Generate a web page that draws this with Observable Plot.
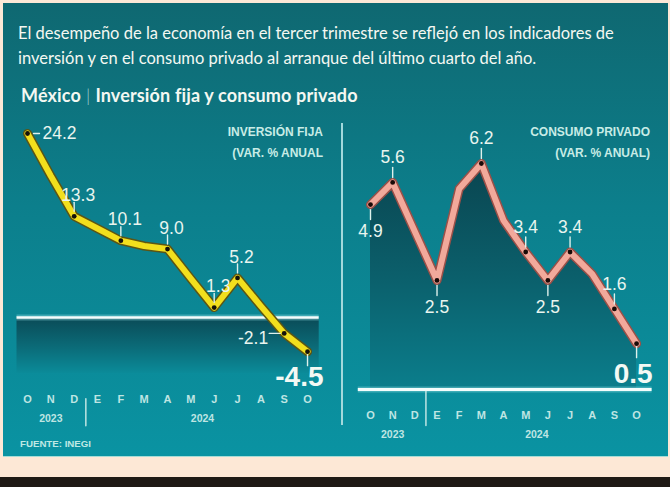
<!DOCTYPE html>
<html><head><meta charset="utf-8">
<script src="https://cdn.jsdelivr.net/npm/d3@7"></script>
<script src="https://cdn.jsdelivr.net/npm/@observablehq/plot@0.6"></script>
<style>
body{margin:0;background:#fde8d6;}
#page{position:relative;width:670px;height:487px;overflow:hidden;background:#fde8d6;font-family:Lato,"Liberation Sans",sans-serif;}
#panel{position:absolute;left:3px;top:3px;width:665px;height:453px;background:linear-gradient(180deg,#0f6871 0%,#0c7f8c 45%,#0a93a2 100%);border-bottom:1px solid #a6dcd6;}
#band{position:absolute;left:0;top:477px;width:670px;height:10px;background:#1f1a15;}
.t{position:absolute;white-space:nowrap;color:#f4f8f2;}
#title{left:18px;top:21px;font-size:16.5px;line-height:25px;}
#sub{left:21px;top:84px;font-size:18px;font-weight:700;line-height:22px;letter-spacing:0.15px;}
#sub .bar{font-weight:300;color:#9fd3d4;padding:0 5px;}
.lab{font-family:"Liberation Sans",Arial,sans-serif;font-weight:700;font-size:12px;line-height:21px;color:#c8ece6;text-align:right;}
#labL{right:347px;top:122px;}
#labR{right:20px;top:122px;}
#src{left:20px;top:438px;font-family:"Liberation Sans",Arial,sans-serif;font-weight:700;font-size:9.7px;color:#bfe8e4;}
#div{position:absolute;left:341px;top:123px;width:1.5px;height:302px;background:#a3d9dc;}
.chart{position:absolute;left:0;top:0;}
</style></head>
<body><div id="page">
<div id="panel"></div>
<div id="band"></div>
<div class="t" id="title">El desempeño de la economía en el tercer trimestre se reflejó en los indicadores de<br>inversión y en el consumo privado al arranque del último cuarto del año.</div>
<div class="t" id="sub">México<span class="bar">|</span>Inversión fija y consumo privado</div>
<div class="t lab" id="labL">INVERSIÓN FIJA<br>(VAR. % ANUAL</div>
<div class="t lab" id="labR">CONSUMO PRIVADO<br>(VAR. % ANUAL)</div>
<div class="t" id="src">FUENTE: INEGI</div>
<div id="div"></div>
<div class="chart" id="cL"></div>
<div class="chart" id="cR"></div>
</div>
<script>
// ---- data ----
const months = ["O","N","D","E","F","M","A","M","J","J","A","S","O"];
const monthYear = ["2023","2023","2023","2024","2024","2024","2024","2024","2024","2024","2024","2024","2024"];
const years = ["2023","2024"];
const inversion = [24.2, 18.6, 13.3, 11.7, 10.1, 9.4, 9.0, 5.1, 1.3, 5.2, 1.5, -2.1, -4.5];
const consumo = [4.9, 5.6, 4.05, 2.5, 5.4, 6.2, 4.4, 3.4, 2.5, 3.4, 2.7, 1.6, 0.5];
const inversionLabeled = [0, 2, 4, 6, 8, 9, 11, 12];
const consumoLabeled = [0, 1, 3, 5, 7, 8, 9, 11, 12];

// ---- presentation ----
const W = 670, H = 460;
const numFont = '"Liberation Sans",Arial,sans-serif';
const axFont = '"Liberation Sans",Arial,sans-serif';
const txt = "#e9f5ef";
const fmt = v => v.toFixed(1);
const idx = months.map((m, i) => i);
const yearPos = years.map(y => ({y, c: d3.mean(idx.filter(i => monthYear[i] === y))}));
const seps = idx.slice(1).filter(i => monthYear[i] !== monthYear[i - 1]).map(i => i - 0.5);
const seg = {draw(ctx, l) { ctx.moveTo(0, 0); ctx.lineTo(0, -l); }};

function pts(values, labeled, sides) {
  return labeled.map(i => ({i, v: values[i], s: sides[i] || "above"}));
}
function labelMarks(P, opt) {
  const by = s => P.filter(d => d.s === s);
  const base = {x: "i", y: "v", text: d => fmt(d.v), fill: txt, fontFamily: numFont, fontSize: 17.5};
  const tk = {x: "i", y: "v", shape: seg, anchor: "start", stroke: "#dff1ec", strokeWidth: 1.4};
  return [
    Plot.vector(by("above"), {...tk, length: opt.aboveLen, rotate: 0, dy: -5}),
    Plot.text(by("above"), {...base, dx: opt.aboveDx, dy: opt.aboveDy}),
    Plot.vector(by("below"), {...tk, length: opt.belowLen, rotate: 180, dy: 5}),
    Plot.text(by("below"), {...base, dy: opt.belowDy}),
    Plot.vector(by("right"), {...tk, length: 6, rotate: 90, dx: 6}),
    Plot.text(by("right"), {...base, textAnchor: "start", dx: 15}),
    Plot.vector(by("left"), {...tk, length: 11, rotate: 270, dx: -4}),
    Plot.text(by("left"), {...base, textAnchor: "end", dx: -16, dy: 5}),
    Plot.vector(by("big"), {...tk, length: 11, rotate: 180, dy: 3}),
    Plot.text(by("big"), {...base, fontSize: 28, fontWeight: 700, textAnchor: "end", dx: 16, dy: opt.bigDy, fill: "#f3f9f4"})
  ];
}
function axisMarks(sepFrom, sepLen) {
  return [
    Plot.text(months, {x: (d, i) => i, text: d => d, frameAnchor: "bottom", dy: 29, fill: "#bfe5e3", fontFamily: axFont, fontWeight: 700, fontSize: 11}),
    Plot.text(yearPos, {x: "c", text: "y", frameAnchor: "bottom", dy: 48, fill: "#bfe5e3", fontFamily: axFont, fontWeight: 700, fontSize: 10.5}),
    Plot.vector(seps, {x: d => d, frameAnchor: "bottom", shape: seg, anchor: "start", length: sepLen, rotate: 180, dy: sepFrom, stroke: "#bfe5e3", strokeWidth: 1.5})
  ];
}
function addGrad(svg, id, stops) {
  const defs = d3.select(svg).insert("defs", ":first-child");
  const g = defs.append("linearGradient").attr("id", id).attr("x1", 0).attr("y1", 0).attr("x2", 0).attr("y2", 1);
  stops.forEach(([o, c]) => g.append("stop").attr("offset", o).attr("stop-color", c));
}

// ---- left: inversión fija ----
const xL = [-0.45, 12.5], yL = [-7.4, 24.2];
const PL = pts(inversion, inversionLabeled, {0: "right", 11: "left", 12: "big"});
const left = Plot.plot({
  width: W, height: H, marginLeft: 16.5, marginRight: W - 318.7, marginTop: 133, marginBottom: H - 373.2,
  x: {domain: xL, axis: null}, y: {domain: yL, axis: null},
  style: {background: "transparent", overflow: "visible"},
  marks: [
    Plot.rect([0], {x1: xL[0], x2: xL[1], y1: 0, y2: yL[0], fill: "url(#gL)"}),
    Plot.ruleY([0], {stroke: "#8fdbe0", strokeWidth: 6, strokeOpacity: 0.4}),
    Plot.ruleY([0], {stroke: "#f4fdfc", strokeWidth: 2.6}),
    Plot.line(inversion, {x: (d, i) => i, y: d => d, stroke: "#5c5514", strokeWidth: 9, strokeLinejoin: "round", strokeLinecap: "round"}),
    Plot.line(inversion, {x: (d, i) => i, y: d => d, stroke: "#f2df1d", strokeWidth: 6, strokeLinejoin: "round", strokeLinecap: "round"}),
    Plot.dot(PL, {x: "i", y: "v", r: 2.4, fill: "#15120a"}),
    ...labelMarks(PL, {aboveLen: 9, aboveDx: 4, aboveDy: -21, belowLen: 9, belowDy: 28, bigDy: 25}),
    ...axisMarks(25, 27)
  ]
});
addGrad(left, "gL", [[0, "#0a4a56"], [0.55, "#0b6c79"], [1, "#0b8b99"]]);
document.getElementById("cL").appendChild(left);

// ---- right: consumo privado ----
const xR = [-0.55, 12.7], yR = [-0.95, 6.2];
const PR = pts(consumo, consumoLabeled, {0: "below", 3: "below", 8: "below", 12: "big"});
const right = Plot.plot({
  width: W, height: H, marginLeft: 357.8, marginRight: W - 651.6, marginTop: 163, marginBottom: H - 389,
  x: {domain: xR, axis: null}, y: {domain: yR, axis: null},
  style: {background: "transparent", overflow: "visible"},
  marks: [
    Plot.areaY(consumo, {x: (d, i) => i, y1: yR[0], y2: d => d, fill: "url(#gR)"}),
    Plot.ruleY([yR[0]], {stroke: "#8fdbe0", strokeWidth: 6, strokeOpacity: 0.4}),
    Plot.ruleY([yR[0]], {stroke: "#f4fdfc", strokeWidth: 2.8}),
    Plot.line(consumo, {x: (d, i) => i, y: d => d, stroke: "#9a5048", strokeWidth: 9, strokeLinejoin: "round", strokeLinecap: "round"}),
    Plot.line(consumo, {x: (d, i) => i, y: d => d, stroke: "#f2a99b", strokeWidth: 6, strokeLinejoin: "round", strokeLinecap: "round"}),
    Plot.dot(PR, {x: "i", y: "v", r: 2.4, fill: "#1a0a08"}),
    ...labelMarks(PR, {aboveLen: 10, aboveDx: 0, aboveDy: -25, belowLen: 10, belowDy: 27, bigDy: 30}),
    ...axisMarks(2, 34)
  ]
});
addGrad(right, "gR", [[0, "#0a4550"], [0.5, "#0b5f6b"], [1, "#0b7e8c"]]);
document.getElementById("cR").appendChild(right);
</script>
</body></html>
